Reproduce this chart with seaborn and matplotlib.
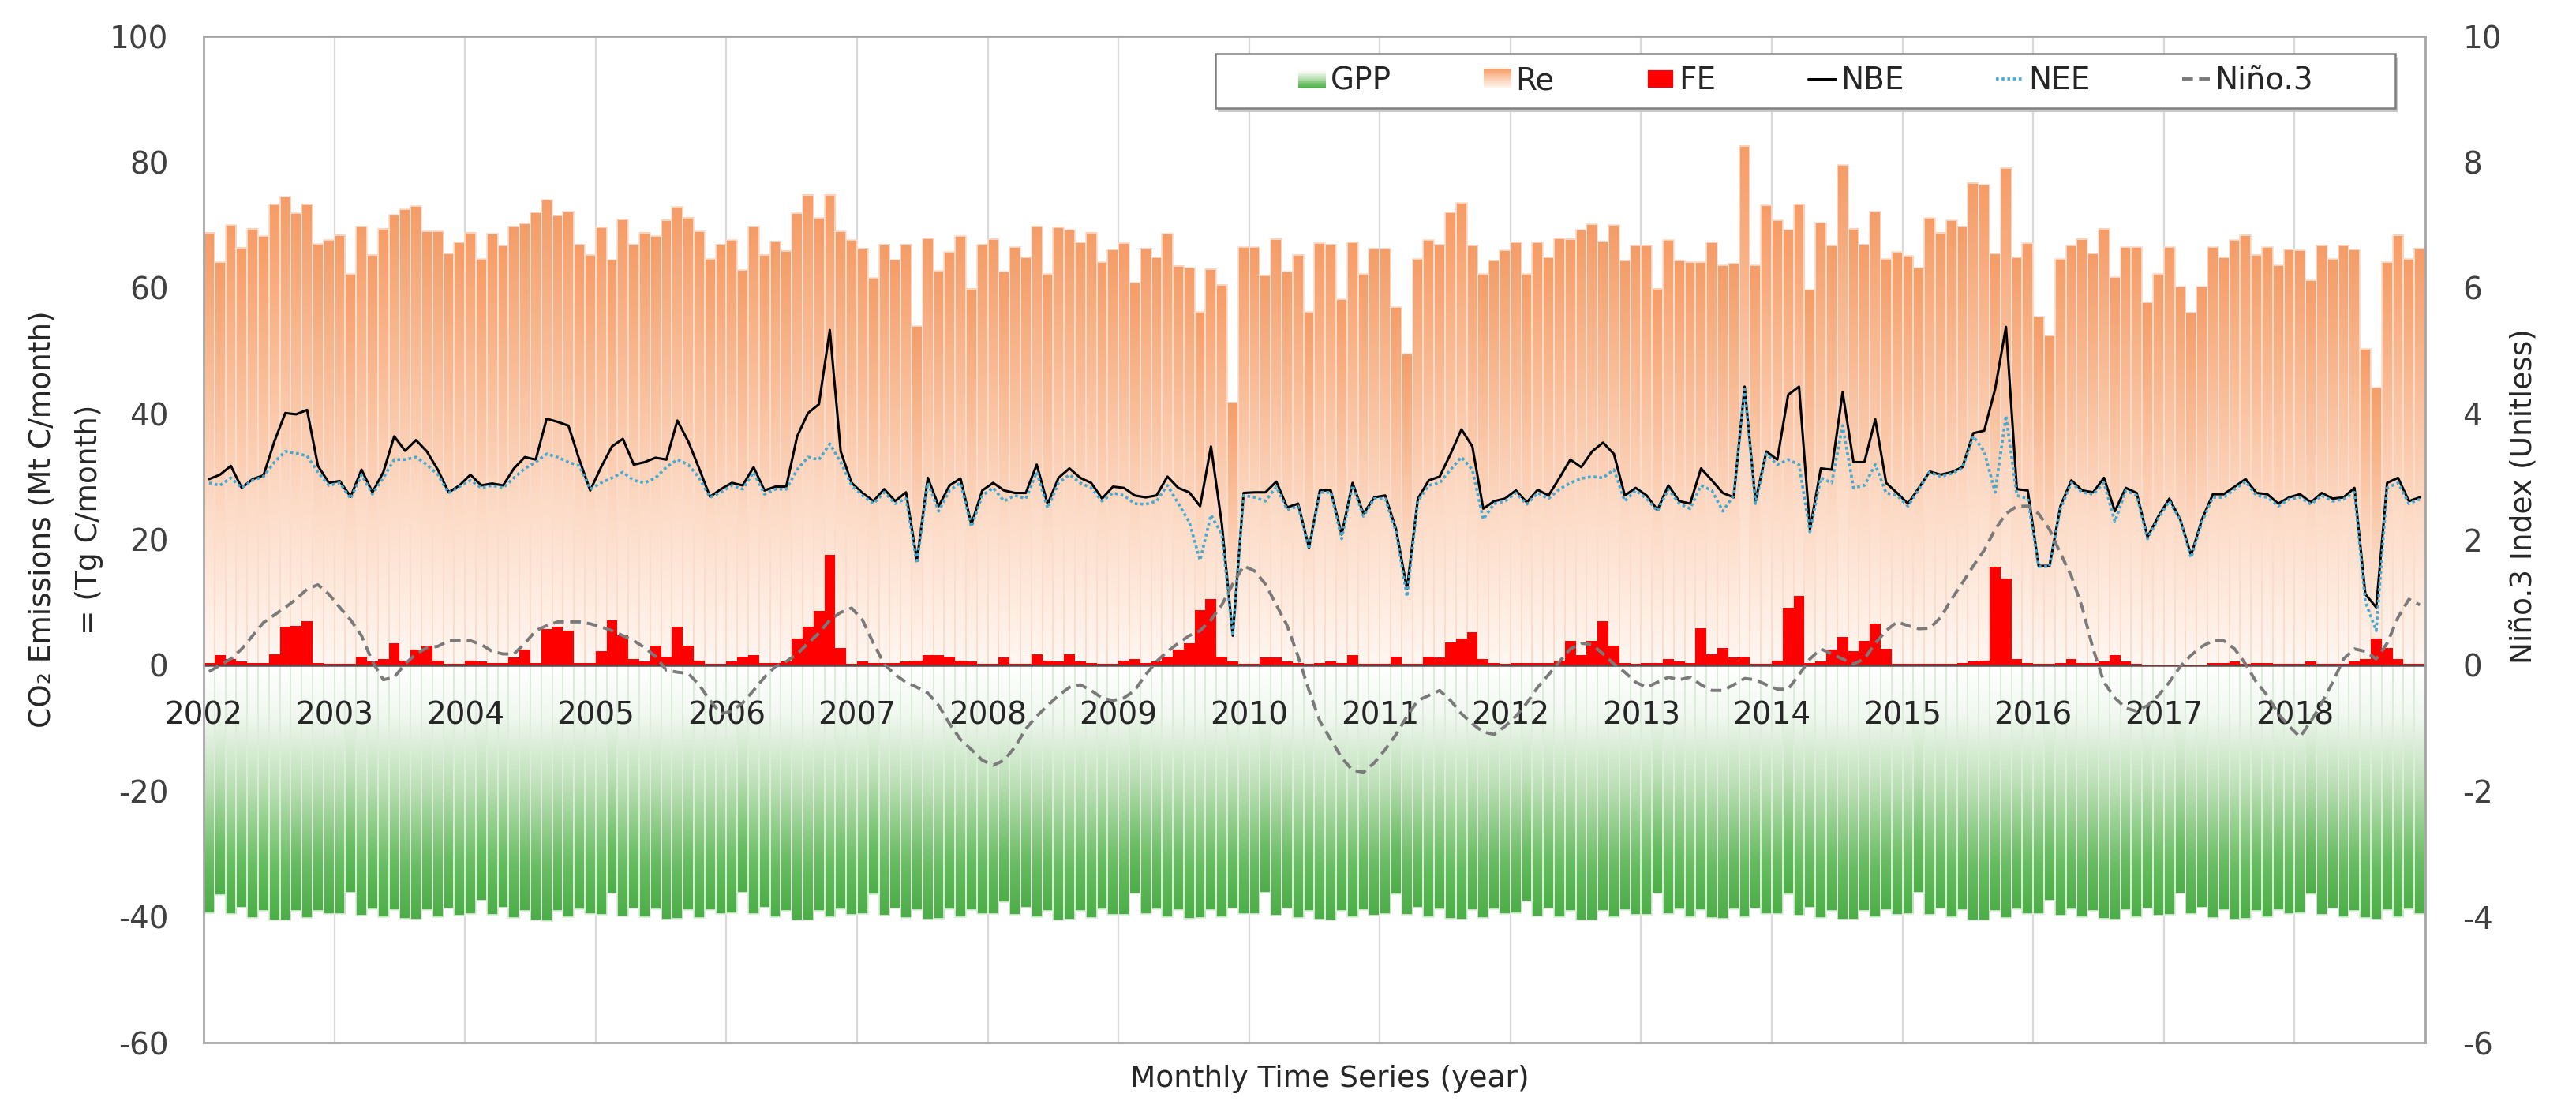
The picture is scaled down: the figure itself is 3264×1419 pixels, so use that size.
import numpy as np
import matplotlib
matplotlib.use('Agg')
import matplotlib.pyplot as plt
import seaborn as sns
from matplotlib.colors import LinearSegmentedColormap
from matplotlib.patches import Rectangle, Patch
from matplotlib.lines import Line2D
from matplotlib.legend_handler import HandlerBase


years = list(range(2002, 2019))
months = np.arange(len(years) * 12)

# Ecosystem respiration (Mt C/month), one row per year
re_vals = [
    68.8, 64.1, 70.0, 66.4, 69.4, 68.2, 73.3, 74.5, 71.9, 73.3, 67.0, 67.6,
    68.4, 62.2, 69.8, 65.3, 69.4, 71.6, 72.5, 73.0, 69.0, 69.0, 65.5, 67.2,
    68.8, 64.6, 68.6, 66.7, 69.8, 70.2, 72.0, 74.0, 71.5, 72.1, 66.9, 65.3,
    69.6, 64.5, 70.9, 66.9, 68.8, 68.2, 70.8, 72.9, 71.2, 69.0, 64.6, 66.9,
    67.6, 62.8, 69.8, 65.3, 67.4, 65.9, 71.9, 74.8, 71.1, 74.8, 69.0, 67.6,
    66.3, 61.6, 66.9, 64.5, 66.9, 53.9, 67.9, 62.7, 65.7, 68.2, 59.9, 66.9,
    67.8, 62.6, 66.5, 64.9, 69.8, 62.2, 69.6, 69.2, 67.2, 68.8, 64.1, 66.1,
    67.1, 60.8, 66.3, 64.9, 68.6, 63.5, 63.2, 56.2, 63.0, 60.5, 41.8, 66.5,
    66.5, 62.0, 67.8, 62.6, 65.3, 56.2, 67.1, 66.9, 58.2, 67.3, 62.2, 66.3,
    66.3, 56.9, 49.5, 64.6, 67.6, 66.9, 72.0, 73.5, 66.8, 62.2, 64.3, 66.0,
    67.2, 62.2, 67.2, 64.9, 67.9, 67.8, 69.2, 70.1, 67.4, 70.0, 64.3, 66.7,
    66.8, 59.9, 67.6, 64.3, 64.1, 64.1, 67.2, 63.6, 63.9, 82.6, 63.6, 73.1,
    70.7, 69.2, 73.3, 59.7, 70.4, 66.7, 79.5, 69.4, 66.9, 72.1, 64.6, 65.7,
    65.1, 63.2, 71.1, 68.8, 70.7, 69.8, 76.7, 76.4, 65.5, 79.1, 64.9, 67.1,
    55.4, 52.5, 64.6, 66.7, 67.8, 65.5, 69.4, 61.7, 66.5, 66.5, 57.7, 62.2,
    66.5, 60.2, 56.1, 60.2, 66.5, 64.9, 67.6, 68.4, 65.3, 66.5, 63.6, 66.1,
    66.0, 61.2, 66.8, 64.6, 66.8, 66.1, 50.3, 44.1, 64.1, 68.4, 64.6, 66.3,
]

# Gross primary production (negative = uptake)
gpp_vals = [
    -39.4, -36.5, -39.6, -38.6, -40.2, -39.0, -40.6, -40.6, -39.0, -40.2, -39.0, -39.6,
    -39.6, -36.2, -39.8, -38.8, -40.1, -38.9, -40.3, -40.4, -38.9, -40.0, -38.7, -39.8,
    -39.5, -37.4, -39.7, -38.6, -40.2, -39.0, -40.5, -40.7, -39.1, -40.1, -38.8, -39.6,
    -39.7, -36.3, -39.9, -38.7, -40.0, -38.8, -40.4, -40.3, -38.9, -40.2, -38.9, -39.5,
    -39.4, -36.1, -39.6, -38.5, -40.1, -39.0, -40.5, -40.5, -39.0, -40.0, -38.8, -39.7,
    -39.6, -36.4, -39.8, -38.7, -40.2, -38.9, -40.4, -40.3, -38.8, -40.1, -38.9, -39.6,
    -39.5, -37.6, -39.7, -38.6, -40.1, -39.0, -40.5, -40.4, -39.0, -40.2, -38.8, -39.7,
    -39.7, -36.3, -39.6, -38.8, -40.0, -38.9, -40.3, -40.2, -38.9, -40.1, -38.7, -39.6,
    -39.5, -36.2, -39.8, -38.7, -40.2, -39.0, -40.4, -40.5, -39.1, -40.0, -38.9, -39.8,
    -39.6, -36.4, -39.7, -38.6, -40.1, -38.8, -40.3, -40.4, -38.9, -40.2, -38.8, -39.6,
    -39.4, -37.5, -39.9, -38.7, -40.1, -39.1, -40.5, -40.6, -39.0, -40.1, -38.9, -39.7,
    -39.7, -36.3, -39.6, -38.8, -40.0, -38.9, -40.2, -40.3, -38.8, -40.0, -38.7, -39.5,
    -39.5, -36.4, -39.8, -38.6, -40.2, -39.0, -40.4, -40.4, -39.0, -40.1, -38.9, -39.7,
    -39.6, -36.2, -39.7, -38.7, -40.1, -38.9, -40.5, -40.5, -39.1, -40.2, -38.8, -39.6,
    -39.5, -37.4, -39.8, -38.8, -40.0, -39.0, -40.3, -40.4, -38.9, -40.0, -38.7, -39.8,
    -39.7, -36.3, -39.6, -38.6, -40.2, -38.9, -40.4, -40.3, -39.0, -40.1, -38.9, -39.6,
    -39.4, -36.4, -39.7, -38.7, -40.1, -39.0, -40.2, -40.4, -38.9, -40.0, -38.8, -39.5,
]

# Fire emissions
fe_vals = [
    0.3, 1.6, 1.0, 0.6, 0.3, 0.3, 1.8, 6.1, 6.3, 7.0, 0.3, 0.2,
    0.2, 0.2, 1.4, 0.6, 1.0, 3.5, 0.7, 2.5, 3.1, 0.8, 0.2, 0.2,
    0.8, 0.6, 0.3, 0.3, 1.2, 2.5, 0.3, 5.7, 6.1, 5.5, 0.3, 0.3,
    2.2, 7.2, 4.7, 1.0, 0.6, 3.1, 1.4, 6.1, 3.1, 0.7, 0.2, 0.2,
    0.6, 1.4, 1.6, 0.3, 0.3, 0.6, 4.3, 6.1, 8.6, 17.5, 2.8, 0.2,
    0.6, 0.3, 0.3, 0.3, 0.6, 0.8, 1.6, 1.6, 1.4, 0.8, 0.6, 0.2,
    0.2, 1.2, 0.2, 0.2, 1.8, 0.8, 0.6, 1.8, 0.6, 0.3, 0.2, 0.2,
    0.7, 1.0, 0.3, 0.6, 1.4, 2.5, 3.5, 8.8, 10.5, 1.4, 0.6, 0.2,
    0.2, 1.2, 1.2, 0.6, 0.3, 0.2, 0.3, 0.6, 0.3, 1.6, 0.2, 0.2,
    0.2, 1.4, 0.2, 0.2, 1.4, 1.2, 3.6, 4.3, 5.3, 1.0, 0.3, 0.2,
    0.3, 0.3, 0.3, 0.3, 0.7, 3.9, 1.6, 3.9, 7.0, 3.1, 0.3, 0.2,
    0.3, 0.3, 1.0, 0.6, 0.3, 5.9, 1.8, 2.8, 1.2, 1.4, 0.2, 0.2,
    0.8, 9.2, 11.0, 0.3, 0.6, 2.5, 4.5, 2.2, 3.9, 6.6, 2.6, 0.2,
    0.2, 0.2, 0.2, 0.2, 0.2, 0.3, 0.6, 0.8, 15.7, 13.8, 1.0, 0.3,
    0.2, 0.2, 0.3, 1.0, 0.3, 0.3, 0.6, 1.6, 0.6, 0.2, 0.1, 0.1,
    0.1, 0.1, 0.1, 0.1, 0.3, 0.3, 0.6, 0.2, 0.3, 0.3, 0.2, 0.2,
    0.2, 0.6, 0.2, 0.2, 0.2, 0.6, 1.0, 4.3, 2.8, 1.0, 0.2, 0.2,
]

# Net biome exchange
nbe_vals = [
    29.6, 30.3, 31.7, 28.2, 29.6, 30.2, 35.6, 40.1, 39.9, 40.6, 31.7, 29.0,
    29.3, 26.8, 31.1, 27.5, 30.7, 36.4, 34.1, 35.8, 34.0, 31.1, 27.5, 28.6,
    30.3, 28.6, 28.9, 28.6, 31.3, 33.1, 32.7, 39.2, 38.7, 38.1, 32.7, 27.8,
    31.5, 34.8, 36.0, 31.9, 32.3, 33.0, 32.7, 38.9, 35.6, 31.3, 26.8, 28.0,
    29.0, 28.6, 31.5, 27.8, 28.4, 28.4, 36.4, 40.1, 41.5, 53.3, 34.0, 29.0,
    27.4, 26.1, 28.0, 26.1, 27.5, 16.7, 29.8, 25.3, 28.6, 29.7, 22.4, 27.8,
    29.0, 27.8, 27.4, 27.4, 31.9, 25.6, 29.8, 31.3, 29.8, 29.0, 26.5, 28.4,
    28.2, 27.0, 26.7, 27.0, 30.0, 28.2, 27.5, 25.3, 34.8, 22.4, 4.7, 27.4,
    27.5, 27.5, 29.2, 25.1, 25.7, 18.7, 27.8, 27.8, 20.8, 29.0, 24.1, 26.7,
    27.0, 21.6, 12.1, 26.5, 29.4, 30.0, 33.6, 37.5, 34.8, 24.9, 26.1, 26.5,
    27.8, 25.9, 27.9, 27.0, 29.8, 32.7, 31.5, 34.0, 35.4, 33.6, 27.0, 28.2,
    27.0, 24.7, 28.6, 26.1, 25.7, 31.3, 29.4, 27.4, 26.7, 44.3, 26.1, 34.0,
    32.7, 43.0, 44.3, 21.6, 31.3, 31.1, 43.4, 32.3, 32.3, 39.1, 29.0, 27.4,
    25.7, 28.2, 30.8, 30.3, 30.7, 31.5, 36.9, 37.3, 43.9, 53.8, 28.0, 27.8,
    15.8, 15.8, 25.3, 29.4, 27.8, 27.5, 29.8, 24.5, 28.2, 27.4, 20.4, 23.7,
    26.5, 23.2, 17.5, 23.2, 27.2, 27.2, 28.4, 29.6, 27.4, 27.2, 25.7, 26.7,
    27.2, 25.9, 27.4, 26.5, 26.7, 28.2, 11.3, 9.2, 29.0, 29.8, 26.1, 26.7,
]

# Net ecosystem exchange
nee_vals = [
    29.0, 28.6, 29.8, 28.2, 29.4, 30.0, 32.3, 34.0, 33.7, 33.3, 30.7, 28.6,
    29.0, 26.5, 30.3, 27.2, 29.8, 32.7, 32.7, 33.1, 31.9, 30.3, 27.4, 28.4,
    29.4, 28.2, 28.6, 28.2, 29.8, 31.3, 32.3, 33.6, 33.1, 32.3, 31.7, 28.0,
    29.0, 29.8, 30.7, 29.4, 29.0, 29.8, 31.5, 32.7, 31.9, 29.8, 26.7, 27.5,
    28.6, 28.0, 30.7, 27.2, 28.0, 28.0, 31.1, 33.1, 32.7, 35.2, 32.3, 28.6,
    27.0, 25.7, 27.5, 25.7, 26.5, 16.2, 29.0, 24.5, 27.8, 29.0, 22.0, 27.0,
    28.2, 26.1, 27.0, 26.5, 30.7, 25.0, 29.0, 30.3, 29.0, 28.2, 26.1, 27.4,
    27.0, 25.7, 25.6, 26.1, 28.6, 25.7, 22.8, 16.7, 23.9, 20.8, 4.7, 27.0,
    26.7, 26.1, 28.4, 24.7, 25.3, 18.5, 27.5, 27.5, 20.1, 28.6, 23.7, 26.5,
    26.5, 21.2, 10.9, 26.1, 28.6, 29.0, 31.1, 33.1, 31.1, 23.2, 25.7, 26.1,
    27.4, 25.6, 27.4, 26.5, 28.0, 29.0, 29.7, 30.0, 29.8, 31.1, 26.1, 27.8,
    26.5, 24.5, 28.0, 25.7, 24.9, 28.6, 27.8, 24.5, 27.0, 43.9, 25.7, 33.6,
    31.9, 32.7, 31.9, 21.2, 29.8, 29.0, 38.1, 28.2, 28.6, 31.9, 27.4, 27.0,
    25.3, 28.0, 30.7, 30.0, 30.5, 31.3, 36.4, 34.0, 27.5, 39.7, 27.0, 26.5,
    15.7, 15.7, 24.9, 29.0, 27.5, 27.2, 29.0, 22.8, 27.8, 27.0, 20.1, 23.4,
    26.1, 23.1, 17.1, 22.8, 26.7, 26.7, 28.0, 29.2, 27.0, 26.7, 25.3, 26.4,
    26.7, 25.6, 27.0, 26.1, 26.4, 27.5, 10.1, 5.5, 28.2, 29.0, 25.7, 26.4,
]

# Nino 3 index (right axis)
nino_vals = [
    -0.10, 0.00, 0.10, 0.26, 0.47, 0.68, 0.80, 0.92, 1.05, 1.21, 1.28, 1.13,
    0.92, 0.72, 0.47, 0.06, -0.23, -0.19, 0.02, 0.18, 0.28, 0.30, 0.39, 0.40,
    0.39, 0.33, 0.22, 0.18, 0.18, 0.35, 0.55, 0.63, 0.69, 0.69, 0.69, 0.66,
    0.61, 0.55, 0.47, 0.39, 0.28, 0.14, -0.08, -0.11, -0.13, -0.31, -0.56, -0.77,
    -0.73, -0.60, -0.40, -0.19, -0.02, 0.06, 0.18, 0.35, 0.51, 0.72, 0.84, 0.91,
    0.72, 0.35, 0.02, -0.15, -0.27, -0.35, -0.44, -0.64, -0.93, -1.18, -1.34, -1.51,
    -1.59, -1.51, -1.30, -1.01, -0.81, -0.64, -0.48, -0.35, -0.31, -0.40, -0.52, -0.56,
    -0.52, -0.40, -0.15, 0.06, 0.22, 0.35, 0.47, 0.55, 0.72, 0.96, 1.29, 1.58,
    1.50, 1.29, 0.96, 0.63, 0.14, -0.40, -0.89, -1.18, -1.47, -1.67, -1.70, -1.55,
    -1.34, -1.10, -0.81, -0.56, -0.48, -0.40, -0.56, -0.77, -0.93, -1.06, -1.10, -0.97,
    -0.81, -0.60, -0.35, -0.15, 0.06, 0.26, 0.35, 0.33, 0.18, 0.02, -0.11, -0.27,
    -0.35, -0.27, -0.19, -0.23, -0.19, -0.31, -0.40, -0.40, -0.31, -0.21, -0.23, -0.31,
    -0.38, -0.38, -0.15, 0.10, 0.26, 0.18, 0.10, 0.02, 0.10, 0.35, 0.55, 0.69,
    0.63, 0.58, 0.59, 0.76, 1.05, 1.31, 1.58, 1.83, 2.16, 2.41, 2.53, 2.53,
    2.41, 2.16, 1.78, 1.42, 0.92, 0.26, -0.27, -0.52, -0.68, -0.73, -0.64, -0.48,
    -0.27, -0.02, 0.16, 0.30, 0.39, 0.39, 0.26, 0.02, -0.27, -0.48, -0.77, -0.97,
    -1.14, -0.89, -0.60, -0.27, 0.10, 0.26, 0.22, 0.10, 0.35, 0.76, 1.05, 0.96,
]

# colours
re_cmap = LinearSegmentedColormap.from_list(
    're', [(0, '#FFF7F2'), (0.35, '#FDDCC8'), (0.7, '#F9BA93'), (1, '#F59D68')])
gpp_cmap = LinearSegmentedColormap.from_list(
    'gpp', [(0, '#FFFFFF'), (0.2, '#F1F8F0'), (0.5, '#B8DEB2'), (0.8, '#68BD62'), (1, '#4CAE48')])
nee_color = '#46A9D0'
nino_color = '#7A7A7A'


class GradientHandler(HandlerBase):
    # legend square filled with stacked strips of a colormap
    def __init__(self, cmap, flip=False):
        super().__init__()
        self.cmap = cmap
        self.flip = flip

    def create_artists(self, legend, orig_handle, xdescent, ydescent,
                       width, height, fontsize, trans):
        n = 14
        arts = []
        for k in range(n):
            f = (k + 0.5) / n
            c = self.cmap(1 - f if self.flip else f)
            arts.append(Rectangle((-xdescent, -ydescent + height * k / n), width,
                                  height / n * 1.05, facecolor=c, edgecolor='none',
                                  transform=trans))
        return arts


def paint_bars(ax, bars, cmap, edge, up=True):
    ramp = np.linspace(0, 1, 128).reshape(-1, 1)
    if not up:
        ramp = ramp[::-1]
    for p in bars:
        x0, w, h = p.get_x(), p.get_width(), p.get_height()
        lo, hi = sorted([0, h])
        ax.imshow(ramp, cmap=cmap, origin='lower', extent=[x0, x0 + w, lo, hi],
                  aspect='auto', interpolation='bilinear', zorder=1)
        p.set_facecolor('none')
        p.set_edgecolor(edge)
        p.set_linewidth(0.6)
        p.set_zorder(2)


sns.set_style('white')
plt.rcParams['font.family'] = ['DejaVu Sans']
plt.rcParams['axes.unicode_minus'] = False

fig = plt.figure(figsize=(16.32, 7.095), dpi=200)
ax = fig.add_axes([0.07904, 0.06906, 0.86244, 0.89852])

year_edges = np.arange(0, len(months) + 1, 12) - 0.5
for xv in year_edges[1:-1]:
    ax.axvline(xv, color='#D9D9D9', lw=0.8, zorder=0)

sns.barplot(x=months, y=re_vals, width=1, color='#F59D68', saturation=1,
            errorbar=None, ax=ax)
paint_bars(ax, ax.containers[-1], re_cmap, '#FADDCD', up=True)

sns.barplot(x=months, y=gpp_vals, width=1, color='#4CAE48', saturation=1,
            errorbar=None, ax=ax)
paint_bars(ax, ax.containers[-1], gpp_cmap, '#DCEDD9', up=False)

sns.barplot(x=months, y=fe_vals, width=1, color='#FF0000', saturation=1,
            errorbar=None, ax=ax)
for p in ax.containers[-1]:
    p.set_linewidth(0)
    p.set_zorder(3)

sns.lineplot(x=months, y=nbe_vals, ax=ax, color='black', linewidth=1.1, zorder=5)
sns.lineplot(x=months, y=nee_vals, ax=ax, color=nee_color, linewidth=1.3,
             linestyle=(0, (1, 1)), zorder=6)

ax.set_axisbelow(False)
ax.xaxis.set_zorder(4)
ax.set_xlim(-0.5, len(months) - 0.5)
ax.set_ylim(-60, 100)
ax.set_yticks(range(-60, 101, 20))
ax.set_xticks(year_edges[:-1], labels=[str(y) for y in years])
for s in ['top', 'left', 'right']:
    ax.spines[s].set_visible(False)
ax.spines['bottom'].set_position(('data', 0))
ax.spines['bottom'].set_color('#5A4A4A')
ax.spines['bottom'].set_linewidth(0.9)
ax.spines['bottom'].set_zorder(4)
ax.tick_params(axis='x', direction='inout', length=10, width=0.8, color='#595959',
               pad=11, labelsize=14, labelcolor='#262626')
ax.tick_params(axis='y', length=0, pad=16, labelsize=14, labelcolor='#404040')
ax.set_xlabel('Monthly Time Series (year)', fontsize=13.5, color='#262626')
ax.xaxis.set_label_coords(0.507, -0.022)
ax.set_ylabel('CO\u2082 Emissions (Mt C/month)\n= (Tg C/month)', fontsize=13.5,
              color='#262626', linespacing=1.85)
ax.yaxis.set_label_coords(-0.045, 0.52)

# Nino 3 on the secondary axis
ax2 = ax.twinx()
sns.lineplot(x=months, y=nino_vals, ax=ax2, color=nino_color, linewidth=1.4,
             linestyle=(0, (3.5, 2)))
ax2.set_ylim(-6, 10)
ax2.set_yticks(range(-6, 11, 2))
for s in ax2.spines.values():
    s.set_visible(False)
ax2.tick_params(axis='y', length=0, pad=17, labelsize=14, labelcolor='#404040')
ax2.set_ylabel('Ni\u00f1o.3 Index (Unitless)', fontsize=13.5, color='#262626')
ax2.yaxis.set_label_coords(1.038, 0.543)

# plot area border
ax2.add_patch(Rectangle((0, 0), 1, 1, transform=ax2.transAxes, fill=False,
                        edgecolor='#A6A6A6', lw=1.0, clip_on=False, zorder=10))

# legend box with a soft shadow
ax2.add_patch(Rectangle((0.4566, 0.9246), 0.5311, 0.0541, transform=ax2.transAxes,
                        facecolor='#C8C8C8', edgecolor='none', zorder=7))
ax2.add_patch(Rectangle((0.4554, 0.9286), 0.5311, 0.0541, transform=ax2.transAxes,
                        facecolor='white', edgecolor='#7F7F7F', lw=0.9, zorder=8))

h_gpp = Patch(label='GPP')
h_re = Patch(label='Re')
handles = [
    h_gpp, h_re,
    Patch(facecolor='#FF0000', label='FE'),
    Line2D([], [], color='black', lw=1.1, label='NBE'),
    Line2D([], [], color=nee_color, lw=1.3, ls=(0, (1, 1)), label='NEE'),
    Line2D([], [], color=nino_color, lw=1.4, ls=(0, (3.5, 2)), label='Ni\u00f1o.3'),
]
leg = ax2.legend(handles=handles,
                 handler_map={h_gpp: GradientHandler(gpp_cmap, flip=True),
                              h_re: GradientHandler(re_cmap)},
                 loc='center', bbox_to_anchor=(0.721, 0.9557), ncol=6, frameon=False,
                 fontsize=14, handlelength=0.9, handleheight=0.6,
                 handletextpad=0.15, columnspacing=3.0)
leg.set_zorder(9)
for t in leg.get_texts():
    t.set_color('#262626')

fig.savefig('out.png', dpi=200)
